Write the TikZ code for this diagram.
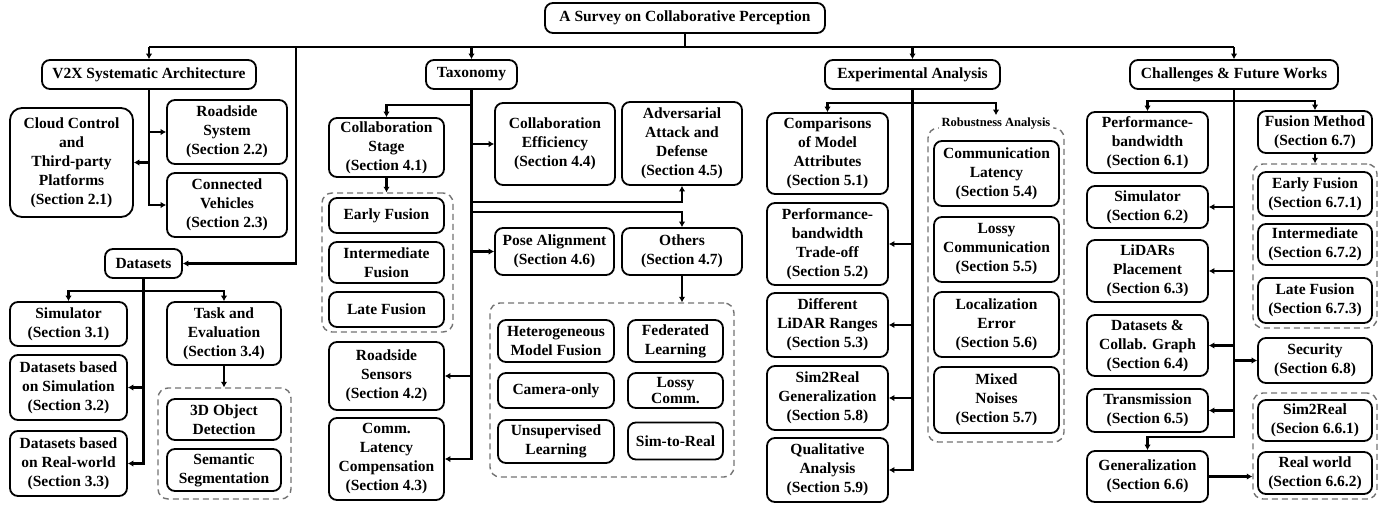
\documentclass[tikz,border=0pt]{standalone}
\usepackage{fontspec}
\setmainfont{Liberation Serif}
\usetikzlibrary{arrows.meta}

\tikzset{
  box/.style={draw, line width=1.8pt, rounded corners=8pt, align=center, inner sep=1pt,
    font=\fontsize{15.5}{19}\selectfont\bfseries},
  sz/.style 2 args={minimum width=#1pt, minimum height=#2pt},
  grp/.style={draw=black!55, dash pattern=on 6pt off 4pt, line width=1.4pt, rounded corners=10pt},
  link/.style={line width=2.2pt},
  arr/.style={line width=2.2pt, -{Latex[length=5.5pt,width=6.5pt]}},
}

\begin{document}
\begin{tikzpicture}[x=1pt,y=-1pt]
\useasboundingbox (0,0) rectangle (1383,504);

% dashed groups
\node[grp, sz={133}{111}] (tgrp) at (224.5,443.5) {};
\node[grp, sz={131}{139}] (fgrp) at (387.5,262.5) {};
\node[grp, sz={244}{174}] (ogrp) at (612,390) {};
\node[grp, sz={136}{314}] (rgrp) at (996,285) {};
\node[grp, sz={124}{164}] (cfgrp) at (1315,246) {};
\node[grp, sz={124}{106}] (ggrp) at (1315,446) {};

% top level
\node[box, sz={280}{30}] (root) at (685,18) {A Survey on Collaborative Perception};
\node[box, sz={214}{29}] (v2x) at (149,74.5) {V2X Systematic Architecture};
\node[box, sz={91}{29}] (tax) at (471.5,74.5) {Taxonomy};
\node[box, sz={175}{29}] (exp) at (912.5,74.5) {Experimental Analysis};
\node[box, sz={208}{29}] (chal) at (1234,74.5) {Challenges \& Future Works};

% V2X
\node[box, sz={123}{109}, rounded corners=12pt] (cloud) at (71.5,162.5) {Cloud Control\\and\\Third-party\\Platforms\\(Section 2.1)};
\node[box, sz={120}{64}] (road) at (227,132) {Roadside\\System\\(Section 2.2)};
\node[box, sz={120}{64}] (conn) at (227,205) {Connected\\Vehicles\\(Section 2.3)};

% datasets
\node[box, sz={77}{29}] (data) at (143.5,263.5) {Datasets};
\node[box, sz={117}{44}] (sim) at (68.5,324) {Simulator\\(Section 3.1)};
\node[box, sz={117}{65}] (dsim) at (68.5,387.5) {Datasets based\\on Simulation\\(Section 3.2)};
\node[box, sz={117}{65}] (dreal) at (68.5,463.5) {Datasets based\\on Real-world\\(Section 3.3)};
\node[box, sz={114}{63}] (task) at (224,333.5) {Task and\\Evaluation\\(Section 3.4)};
\node[box, sz={114}{41}] (det) at (224,419.5) {3D Object\\Detection};
\node[box, sz={114}{42}] (seg) at (224,470) {Semantic\\Segmentation};

% taxonomy
\node[box, sz={115}{59}] (cstage) at (386.5,147.5) {Collaboration\\Stage\\(Section 4.1)};
\node[box, sz={115}{35}] (early) at (386.5,215.5) {Early Fusion};
\node[box, sz={115}{41}] (inter) at (386.5,262.5) {Intermediate\\Fusion};
\node[box, sz={115}{35}] (late) at (386.5,309.5) {Late Fusion};
\node[box, sz={115}{68}] (rsens) at (386.5,376) {Roadside\\Sensors\\(Section 4.2)};
\node[box, sz={115}{82}] (comm) at (386.5,459) {Comm.\\Latency\\Compensation\\(Section 4.3)};
\node[box, sz={120}{82}] (ceff) at (555,144) {Collaboration\\Efficiency\\(Section 4.4)};
\node[box, sz={120}{83}] (adv) at (682,143.5) {Adversarial\\Attack and\\Defense\\(Section 4.5)};
\node[box, sz={119}{47}] (pose) at (554.5,251.5) {Pose Alignment\\(Section 4.6)};
\node[box, sz={120}{47}] (oth) at (682,251.5) {Others\\(Section 4.7)};
\node[box, sz={116}{42}] (het) at (556,341) {Heterogeneous\\Model Fusion};
\node[box, sz={95}{42}] (fed) at (675.5,341) {Federated\\Learning};
\node[box, sz={116}{35}] (cam) at (556,390.5) {Camera-only};
\node[box, sz={95}{35}] (lossy) at (675.5,390.5) {Lossy\\[-3pt]Comm.};
\node[box, sz={116}{43}] (unsup) at (556,441.5) {Unsupervised\\Learning};
\node[box, sz={95}{37}] (s2r) at (675.5,441) {Sim-to-Real};

% experimental analysis
\node[box, sz={121}{81}] (cmp) at (827.5,153.5) {Comparisons\\of Model\\Attributes\\(Section 5.1)};
\node[box, sz={121}{82}] (perf) at (827.5,244) {Performance-\\bandwidth\\Trade-off\\(Section 5.2)};
\node[box, sz={121}{64}] (lidar) at (827.5,325) {Different\\LiDAR Ranges\\(Section 5.3)};
\node[box, sz={121}{64}] (s2rgen) at (827.5,398) {Sim2Real\\Generalization\\(Section 5.8)};
\node[box, sz={121}{64}] (qual) at (827.5,470) {Qualitative\\Analysis\\(Section 5.9)};
\node[fill=white, inner sep=3pt, font=\fontsize{12.5}{14}\selectfont\bfseries] (rlab) at (996,124) {Robustness Analysis};
\node[box, sz={125}{65}] (lat) at (996.5,173.5) {Communication\\Latency\\(Section 5.4)};
\node[box, sz={125}{65}] (loss) at (996.5,249.5) {Lossy\\Communication\\(Section 5.5)};
\node[box, sz={125}{65}] (loc) at (996.5,324.5) {Localization\\Error\\(Section 5.6)};
\node[box, sz={125}{66}] (mix) at (996.5,400) {Mixed\\Noises\\(Section 5.7)};

% challenges
\node[box, sz={121}{61}] (cperf) at (1147.5,142.5) {Performance-\\bandwidth\\(Section 6.1)};
\node[box, sz={121}{42}] (csim) at (1147.5,207) {Simulator\\(Section 6.2)};
\node[box, sz={121}{62}] (lplace) at (1147.5,271) {LiDARs\\Placement\\(Section 6.3)};
\node[box, sz={121}{61}] (dcol) at (1147.5,345.5) {Datasets \&\\Collab. Graph\\(Section 6.4)};
\node[box, sz={121}{43}] (trans) at (1147.5,410.5) {Transmission\\(Section 6.5)};
\node[box, sz={121}{51}] (gen) at (1147.5,476.5) {Generalization\\(Section 6.6)};
\node[box, sz={114}{42}] (fmeth) at (1315,132) {Fusion Method\\(Section 6.7)};
\node[box, sz={114}{44}] (cearly) at (1315,194) {Early Fusion\\(Section 6.7.1)};
\node[box, sz={114}{41}] (cinter) at (1315,244.5) {Intermediate\\(Section 6.7.2)};
\node[box, sz={114}{45}] (clate) at (1315,300.5) {Late Fusion\\(Section 6.7.3)};
\node[box, sz={114}{45}] (sec) at (1315,360.5) {Security\\(Section 6.8)};
\node[box, sz={114}{41}] (gs2r) at (1315,420.5) {Sim2Real\\(Secion 6.6.1)};
\node[box, sz={114}{42}] (greal) at (1315,473) {Real world\\(Section 6.6.2)};

% top bar
\coordinate (bar) at (685,47);
\coordinate (dsplit) at (296,47);
\draw[link] (root.south) -- (bar);
\draw[link] (v2x.north |- bar) -- (chal.north |- bar);
\foreach \n in {v2x,tax,exp,chal}
  \draw[arr] (\n.north |- bar) -- (\n.north);
\draw[arr] (dsplit) |- (data.east);

% V2X links
\draw[arr] (v2x.south) |- (conn.west);
\draw[arr] (v2x.south |- road.west) -- (road.west);
\draw[arr] (v2x.south |- cloud.east) -- (cloud.east);

% datasets links
\draw[arr] (data.south) |- (dreal.east);
\draw[arr] (data.south |- dsim.east) -- (dsim.east);
\draw[arr] ([yshift=-12pt]data.south) -| (sim.north);
\draw[arr] ([yshift=-12pt]data.south) -| (task.north);
\draw[arr] (task.south) -- (task.south |- tgrp.north);

% taxonomy links
\coordinate (advj) at ([yshift=-16pt]adv.south);
\coordinate (othj) at ([yshift=15pt]oth.north);
\draw[arr] (tax.south) |- (comm.east);
\draw[arr] ([yshift=-15pt]tax.south) -| (cstage.north);
\draw[arr] (tax.south |- ceff.west) -- (ceff.west);
\draw[arr] (tax.south |- advj) -| (adv.south);
\draw[arr] (tax.south |- othj) -| (oth.north);
\draw[arr] (tax.south |- pose.west) -- (pose.west);
\draw[arr] (tax.south |- rsens.east) -- (rsens.east);
\draw[arr] (cstage.south) -- (cstage.south |- fgrp.north);
\draw[arr] (oth.south) -- (oth.south |- ogrp.north);

% experimental links
\draw[arr] (exp.south) |- (qual.east);
\draw[arr] ([yshift=-13pt]exp.south) -| (cmp.north);
\draw[arr] ([yshift=-13pt]exp.south) -| (rlab.north);
\draw[arr] (exp.south |- perf.east) -- (perf.east);
\draw[arr] (exp.south |- lidar.east) -- (lidar.east);
\draw[arr] (exp.south |- s2rgen.east) -- (s2rgen.east);

% challenges links
\coordinate (genj) at ([yshift=13pt]gen.north);
\draw[arr] (chal.south) |- (genj) -- (gen.north);
\draw[arr] ([yshift=-11pt]chal.south) -| (cperf.north);
\draw[arr] ([yshift=-11pt]chal.south) -| (fmeth.north);
\draw[arr] (chal.south |- csim.east) -- (csim.east);
\draw[arr] (chal.south |- lplace.east) -- (lplace.east);
\draw[arr] (chal.south |- dcol.east) -- (dcol.east);
\draw[arr] (chal.south |- trans.east) -- (trans.east);
\draw[arr] (chal.south |- sec.west) -- (sec.west);
\draw[arr] (fmeth.south) -- (fmeth.south |- cfgrp.north);
\draw[arr] (gen.east) -- (gen.east -| ggrp.west);
\end{tikzpicture}
\end{document}
